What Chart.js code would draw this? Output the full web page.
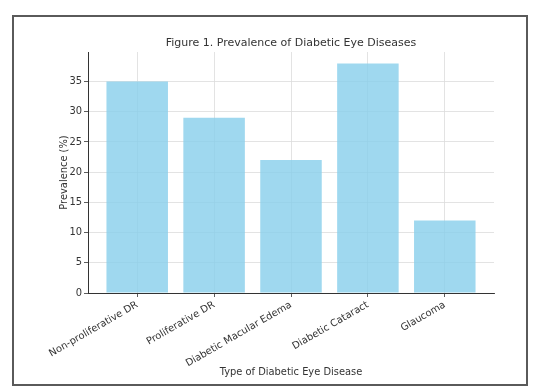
<!DOCTYPE html>
<html>
<head>
<meta charset="utf-8">
<script src="https://cdn.jsdelivr.net/npm/chart.js@4.4.1/dist/chart.umd.min.js"></script>
<style>
  html, body { margin: 0; padding: 0; background: #fff; }
  #wrap { width: 541px; height: 390px; position: relative; }
</style>
</head>
<body>
<div id="wrap"><canvas id="chart-canvas" width="541" height="390"></canvas></div>
<script>
const categories = ['Non-proliferative DR', 'Proliferative DR', 'Diabetic Macular Edema', 'Diabetic Cataract', 'Glaucoma'];
const prevalence = [35, 29, 22, 38, 12];
const yTicks = [0, 5, 10, 15, 20, 25, 30, 35];

const textColor = '#333333';
const fontFamily = '"DejaVu Sans", sans-serif';

// white page + grey frame around the figure
const framePlugin = {
  id: 'frame',
  beforeDraw(chart) {
    const c = chart.ctx;
    c.save();
    c.fillStyle = '#fff';
    c.fillRect(0, 0, chart.width, chart.height);
    c.restore();
  },
  afterDraw(chart) {
    const c = chart.ctx;
    c.save();
    c.strokeStyle = '#5a5a5a';
    c.lineWidth = 2;
    c.strokeRect(13, 16, 514, 369);
    c.restore();
  }
};

const initializeChart = () => {
  let ctx = document.getElementById('chart-canvas');
  return new Chart(ctx, {
    type: 'bar',
    data: {
      datasets: [{
        data: prevalence.map((v, i) => ({ x: i, y: v })),
        backgroundColor: 'rgba(135, 206, 235, 0.8)',
        borderWidth: 0,
        categoryPercentage: 1,
        barPercentage: 0.8
      }]
    },
    options: {
      responsive: false,
      animation: false,
      devicePixelRatio: 1,
      layout: { padding: { left: 54, right: 47, top: 0, bottom: 8 } },
      plugins: {
        legend: { display: false },
        tooltip: { enabled: false },
        title: {
          display: true,
          fullSize: false,
          text: 'Figure 1. Prevalence of Diabetic Eye Diseases',
          color: textColor,
          font: { family: fontFamily, size: 11, weight: 'normal' },
          padding: { top: 36.2, bottom: 2.6 }
        }
      },
      scales: {
        x: {
          type: 'linear',
          min: -0.64,
          max: 4.64,
          offset: false,
          afterBuildTicks: (scale) => { scale.ticks = categories.map((c, i) => ({ value: i })); },
          afterFit: (scale) => { scale.height = 89; },
          ticks: {
            autoSkip: false,
            minRotation: 30,
            maxRotation: 30,
            padding: 2,
            color: textColor,
            font: { family: fontFamily, size: 9.9 },
            callback: (v) => categories[v]
          },
          grid: {
            offset: false,
            color: '#dcdcdc',
            lineWidth: 0.8,
            borderDash: [2, 2],
            tickColor: '#333',
            tickBorderDash: [],
            tickLength: 4
          },
          border: { display: true, color: '#333', width: 1 },
          title: {
            display: true,
            text: 'Type of Diabetic Eye Disease',
            color: textColor,
            font: { family: fontFamily, size: 9.9 },
            padding: { top: 4, bottom: 4 }
          }
        },
        y: {
          min: 0,
          max: 39.9,
          afterBuildTicks: (scale) => { scale.ticks = yTicks.map(v => ({ value: v })); },
          afterFit: (scale) => { scale.width = 34; },
          ticks: {
            padding: 2,
            color: textColor,
            font: { family: fontFamily, size: 9.9 }
          },
          grid: {
            color: '#dcdcdc',
            lineWidth: 0.8,
            borderDash: [2, 2],
            tickColor: '#333',
            tickBorderDash: [],
            tickLength: 4
          },
          border: { display: true, color: '#333', width: 1 },
          title: {
            display: true,
            text: 'Prevalence (%)',
            color: textColor,
            font: { family: fontFamily, size: 9.9 },
            padding: { top: 4, bottom: 4 }
          }
        }
      }
    },
    plugins: [framePlugin]
  });
};

const chart = initializeChart();
</script>
</body>
</html>
